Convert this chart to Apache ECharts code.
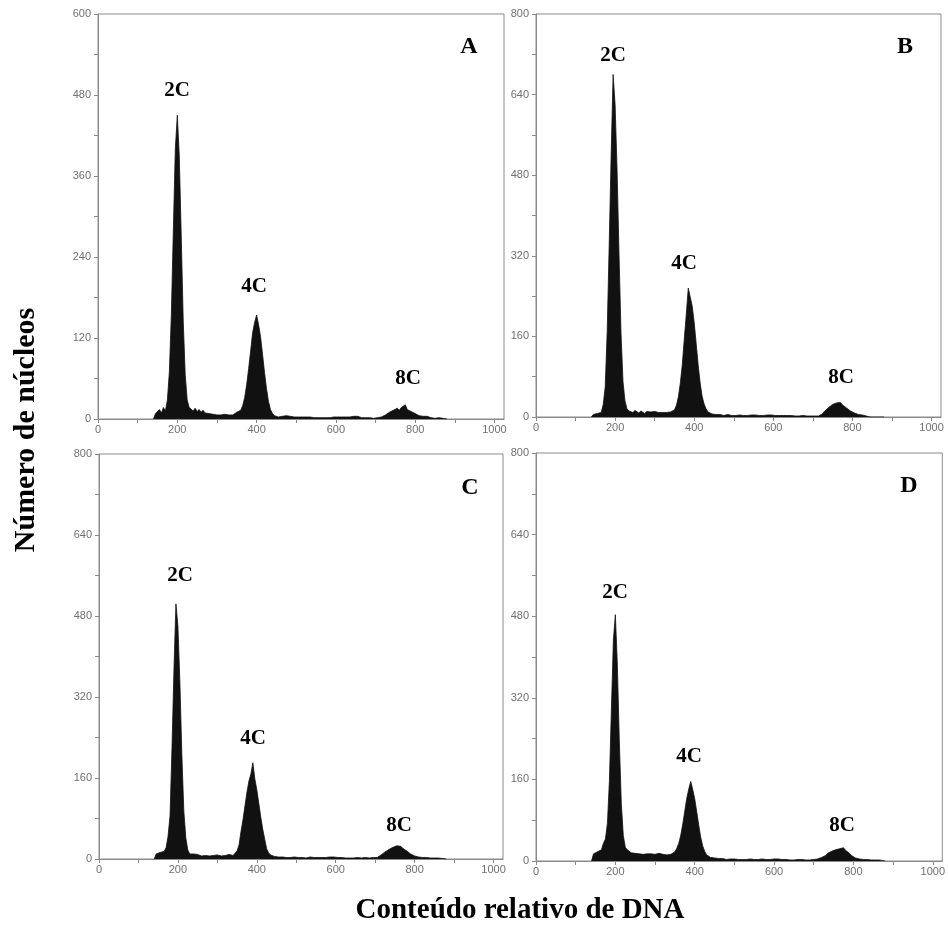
<!DOCTYPE html>
<html>
<head>
<meta charset="utf-8">
<script src="https://cdn.jsdelivr.net/npm/echarts@6/dist/echarts.min.js"></script>
<style>html,body{margin:0;padding:0;background:#fff}#c{width:948px;height:931px}</style>
</head>
<body>
<div id="c"></div>
<script>
// Histogram channels: bins of 5 units starting at channel 140
const binStart = 140;
const binWidth = 5;

const countsA = [
  0, 8, 6, 14, 9, 17, 12, 28, 70, 155,
  280, 400, 450, 390, 270, 145, 65, 28, 17, 15,
  12, 16, 11, 14, 10, 13, 9, 11, 8, 10,
  7, 9, 6, 8, 6, 5, 7, 5, 6, 7,
  6, 8, 10, 11, 13, 20, 32, 51, 75, 101,
  128, 143, 154, 140, 122, 96, 69, 45, 26, 14,
  8, 5, 6, 3, 5, 4, 3, 5, 3, 4,
  5, 3, 4, 3, 4, 3, 4, 3, 2, 3,
  4, 2, 3, 2, 3, 2, 3, 2, 3, 2,
  2, 3, 2, 3, 2, 3, 2, 3, 4, 3,
  5, 4, 5, 4, 3, 2, 3, 2, 1, 2,
  2, 1, 3, 2, 4, 3, 5, 6, 8, 10,
  9, 13, 12, 16, 13, 17, 15, 21, 14, 16,
  11, 12, 8, 9, 5, 6, 4, 3, 4, 3,
  2, 3, 1, 1, 2, 1, 1, 1, 0
];
const countsB = [
  0, 5, 4, 7, 6, 9, 25, 60, 170, 340,
  520, 680, 620, 490, 320, 165, 70, 32, 16, 12,
  11, 9, 13, 10, 8, 12, 9, 7, 11, 8,
  10, 7, 11, 8, 9, 7, 9, 11, 9, 12,
  10, 12, 14, 23, 40, 68, 105, 156, 204, 256,
  238, 220, 187, 146, 103, 68, 41, 26, 16, 10,
  7, 6, 4, 5, 4, 5, 4, 3, 4, 5,
  4, 3, 4, 3, 3, 4, 3, 3, 4, 3,
  3, 4, 3, 4, 3, 3, 4, 3, 3, 4,
  3, 4, 5, 3, 4, 3, 2, 3, 2, 3,
  2, 3, 2, 2, 3, 2, 2, 3, 2, 2,
  3, 2, 3, 2, 3, 2, 4, 7, 12, 15,
  19, 22, 25, 24, 28, 27, 29, 24, 23, 18,
  17, 12, 11, 8, 7, 5, 6, 4, 3, 2,
  1, 0, 0, 0, 0, 0, 0, 0, 0
];
const countsC = [
  0, 10, 8, 13, 11, 15, 22, 45, 85, 220,
  375, 504, 460, 350, 206, 95, 42, 18, 10, 9,
  10, 7, 9, 8, 6, 9, 7, 8, 6, 8,
  7, 6, 8, 7, 6, 8, 7, 6, 9, 8,
  7, 10, 16, 28, 55, 78, 105, 132, 154, 168,
  190, 158, 137, 110, 83, 59, 39, 20, 12, 8,
  6, 5, 3, 4, 3, 4, 3, 3, 4, 3,
  3, 4, 3, 3, 4, 3, 3, 2, 3, 4,
  3, 3, 4, 3, 2, 3, 4, 3, 3, 4,
  3, 4, 3, 3, 2, 3, 3, 2, 3, 2,
  3, 2, 2, 3, 2, 2, 2, 3, 2, 2,
  2, 3, 2, 3, 5, 8, 10, 14, 15, 19,
  20, 23, 24, 26, 24, 25, 21, 20, 16, 13,
  10, 8, 6, 5, 4, 3, 3, 2, 3, 2,
  2, 2, 2, 1, 2, 2, 1, 1, 0
];
const countsD = [
  0, 14, 12, 18, 15, 22, 35, 43, 74, 157,
  296, 433, 483, 386, 235, 113, 50, 27, 22, 20,
  16, 19, 15, 17, 14, 17, 13, 15, 14, 12,
  14, 12, 13, 11, 15, 12, 13, 11, 12, 14,
  13, 15, 18, 25, 35, 51, 73, 98, 123, 141,
  156, 140, 122, 97, 71, 47, 30, 19, 12, 9,
  7, 5, 6, 4, 5, 4, 5, 4, 3, 4,
  4, 3, 4, 4, 3, 4, 3, 4, 3, 3,
  4, 3, 3, 4, 3, 3, 4, 3, 3, 4,
  3, 5, 4, 3, 4, 3, 3, 2, 3, 3,
  2, 3, 2, 2, 3, 2, 3, 2, 2, 3,
  2, 3, 3, 4, 4, 6, 7, 10, 11, 15,
  16, 19, 20, 22, 21, 24, 23, 26, 21, 19,
  15, 11, 8, 6, 5, 4, 4, 3, 3, 3,
  3, 2, 2, 2, 2, 2, 1, 1, 0
];

const xTickLabels = [0, 200, 400, 600, 800, 1000];
const xTicks = [0, 100, 200, 300, 400, 500, 600, 700, 800, 900, 1000];
const yMaxes = [600, 800, 800, 800];
const yIntervals = [120, 160, 160, 160];
const panelLetters = ['A', 'B', 'C', 'D'];
const peakLabels = ['2C', '4C', '8C'];

const panels = [countsA, countsB, countsC, countsD];

const grids = [
  {left: 98, top: 14, width: 406, height: 405},
  {left: 536, top: 14, width: 405, height: 403},
  {left: 99, top: 454, width: 404, height: 405},
  {left: 536, top: 453, width: 407, height: 408}
];
// label centres (pixels) for peak labels and panel letters
const peakPos = [
  [[177, 91], [254, 287], [408, 379]],
  [[613, 56], [684, 264], [841, 378]],
  [[180, 576], [253, 739], [399, 826]],
  [[615, 593], [689, 757], [842, 826]]
];
const letterPos = [[469, 47], [905, 47], [470, 488], [909, 486]];

const axisGray = '#8a8a8a';
const labelGray = '#707070';
const serif = '"Liberation Serif", "Times New Roman", serif';
const sans = '"Liberation Sans", Arial, sans-serif';

const option = {
  animation: false,
  backgroundColor: '#fff',
  grid: grids.map(g => Object.assign({show: true, borderColor: axisGray, borderWidth: 1, backgroundColor: 'transparent'}, g)),
  xAxis: grids.map((g, i) => ({
    type: 'value', gridIndex: i, min: 0, max: 1024,
    axisLine: {show: true, lineStyle: {color: axisGray, width: 1}},
    axisTick: {show: true, length: 4, lineStyle: {color: axisGray}, customValues: xTicks},
    axisLabel: {show: true, color: labelGray, fontSize: 11, fontFamily: sans, margin: 5,
      customValues: xTickLabels, formatter: v => String(v)},
    splitLine: {show: false}
  })),
  yAxis: grids.map((g, i) => ({
    type: 'value', gridIndex: i, min: 0, max: yMaxes[i], interval: yIntervals[i],
    axisLine: {show: true, lineStyle: {color: axisGray, width: 1}},
    axisTick: {show: true, length: 4, lineStyle: {color: axisGray}},
    minorTick: {show: true, splitNumber: 2, length: 4, lineStyle: {color: axisGray}},
    axisLabel: {show: true, color: labelGray, fontSize: 11, fontFamily: sans, margin: 7,
      formatter: v => String(v)},
    splitLine: {show: false}
  })),
  series: panels.map((arr, i) => ({
    type: 'line', xAxisIndex: i, yAxisIndex: i,
    data: arr.map((v, k) => [binStart + k * binWidth, v]),
    symbol: 'none', smooth: false, sampling: null,
    lineStyle: {color: '#111', width: 0.8},
    areaStyle: {color: '#111', opacity: 1}
  })),
  graphic: []
};

panels.forEach((arr, i) => {
  peakLabels.forEach((t, j) => {
    option.graphic.push({type: 'text', x: peakPos[i][j][0], y: peakPos[i][j][1],
      style: {text: t, font: 'bold 21px ' + serif, fill: '#000', textAlign: 'center', textVerticalAlign: 'middle'}});
  });
  option.graphic.push({type: 'text', x: letterPos[i][0], y: letterPos[i][1],
    style: {text: panelLetters[i], font: 'bold 24px ' + serif, fill: '#000', textAlign: 'center', textVerticalAlign: 'middle'}});
});
option.graphic.push({type: 'text', x: 26, y: 430, rotation: Math.PI / 2,
  style: {text: 'Número de núcleos', font: 'bold 30px ' + serif, fill: '#000', textAlign: 'center', textVerticalAlign: 'middle'}});
option.graphic.push({type: 'text', x: 520, y: 911,
  style: {text: 'Conteúdo relativo de DNA', font: 'bold 29px ' + serif, fill: '#000', textAlign: 'center', textVerticalAlign: 'middle'}});

const chart = echarts.init(document.getElementById('c'), null, {renderer: 'canvas'});
chart.setOption(option);
</script>
</body>
</html>
